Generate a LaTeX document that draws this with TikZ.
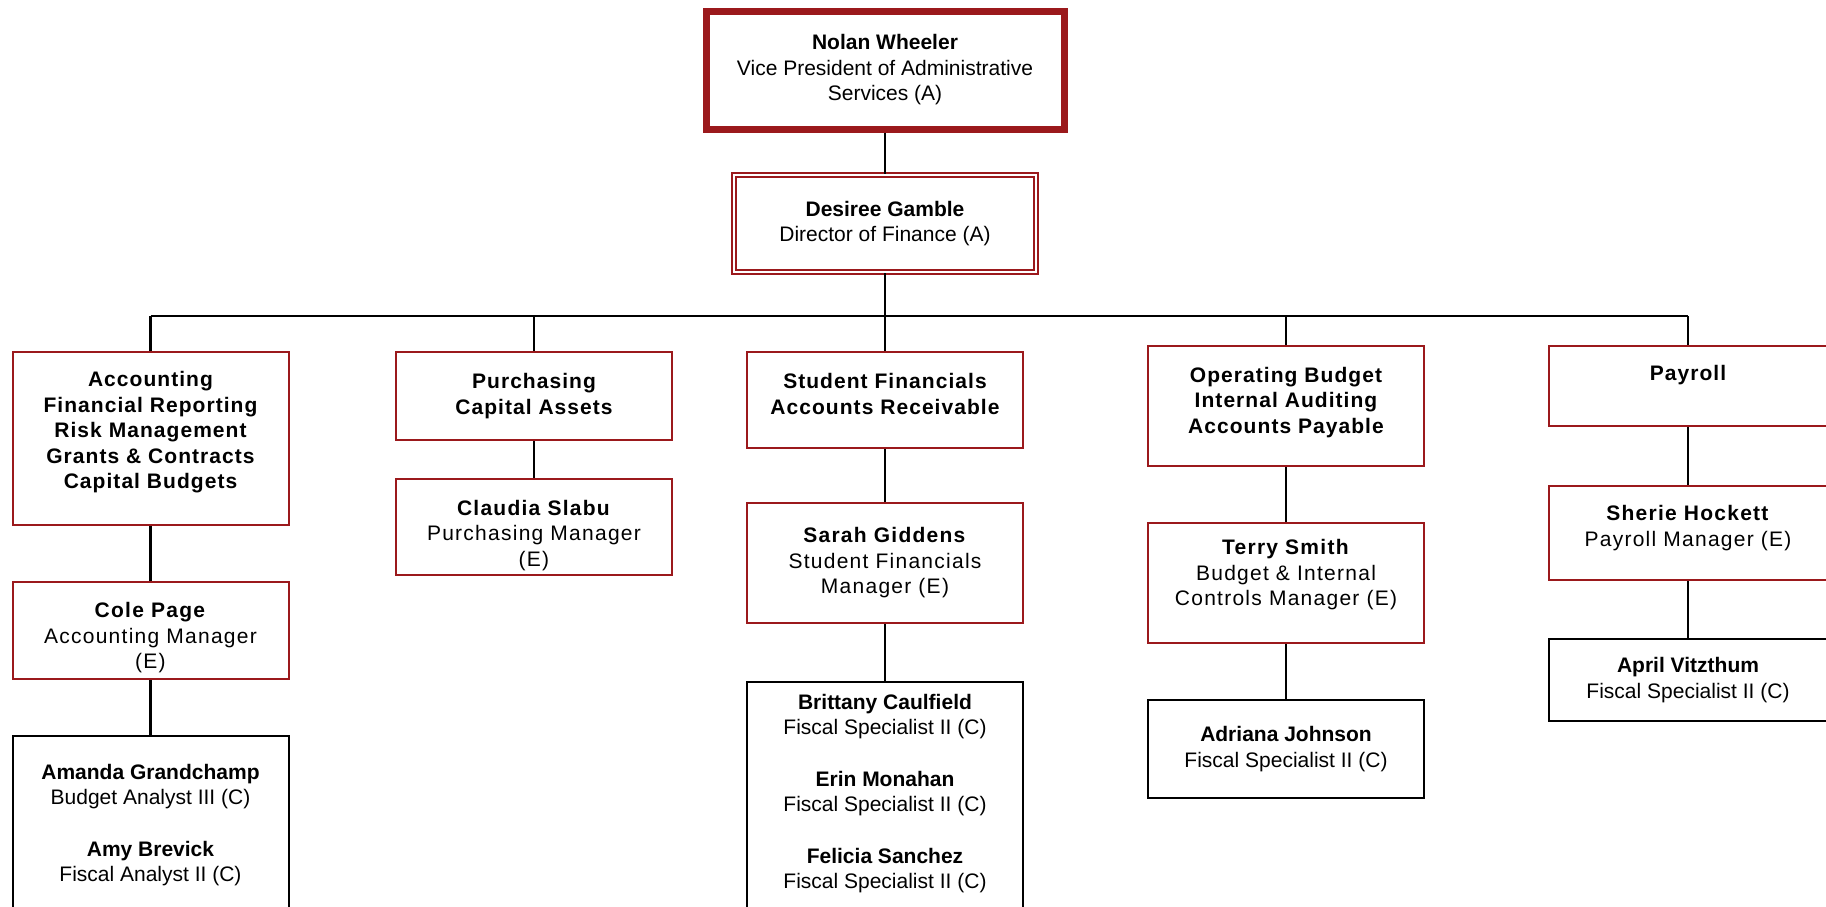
\documentclass[tikz,border=0pt]{standalone}
\usepackage{fontspec}
\setmainfont{Liberation Sans}
\definecolor{chartred}{RGB}{155,25,28}
\newcommand{\person}[2]{\textbf{#1}\\#2}
% empty line above / below to move text inside a box
\newcommand{\padtop}[1]{\mbox{}\\[#1]}
\newcommand{\padbot}[1]{\\[#1]\mbox{}}

\begin{document}
\begin{tikzpicture}
    [x=1pt,y=-1pt,
    boss/.style={rectangle,draw=chartred,fill=white,align=center,
        font=\fontsize{21}{25.5}\selectfont},
    unit/.style={boss,line width=2pt,minimum width=276pt,
        font=\fontsize{21}{25.5}\selectfont\addfontfeature{LetterSpace=6}},
    dept/.style={unit,font=\fontsize{21}{25.5}\selectfont\bfseries\addfontfeature{LetterSpace=5}},
    staff/.style={boss,draw=black,line width=2pt,minimum width=276pt},
    cut/.style={staff,anchor=north},
    link/.style={line width=2.5pt}]

    \fill[white] (0,0) rectangle (1826,906);
    \useasboundingbox (0,0) rectangle (1826,906);
    \clip (0,0) rectangle (1826,906);

    \node[boss,line width=7pt,minimum width=358pt,minimum height=118pt] (vp) at (885,70)
        {\person{Nolan Wheeler}{Vice President of Administrative\\Services (A)}};
    \node[boss,line width=2pt,double=white,double distance=2pt,
        minimum width=302pt,minimum height=97pt] (fin) at (885,223.5)
        {\person{Desiree Gamble}{Director of Finance (A)}};

    % departments
    \node[dept,minimum height=173pt] (acc) at (150.5,438.5)
        {Accounting\\Financial Reporting\\Risk Management\\Grants \& Contracts\\Capital Budgets\padbot{-9pt}};
    \node[dept,minimum height=88pt] (pur) at (534,396) {Purchasing\\Capital Assets};
    \node[dept,minimum height=96pt] (stu) at (885,400)
        {Student Financials\\Accounts Receivable\padbot{-13.5pt}};
    \node[dept,minimum height=120pt] (ops) at (1286,406)
        {Operating Budget\\Internal Auditing\\Accounts Payable\padbot{-14pt}};
    \node[dept,minimum width=278pt,minimum height=80pt] (pay) at (1688,386) {Payroll\\\mbox{}};

    % managers
    \node[unit,minimum height=97pt] (cole) at (150.5,630.5)
        {\padtop{4pt}\person{Cole Page}{Accounting Manager\\(E)}};
    \node[unit,minimum height=96pt] (claudia) at (534,527)
        {\padtop{6pt}\person{Claudia Slabu}{Purchasing Manager\\(E)}};
    \node[unit,minimum height=120pt] (sarah) at (885,563)
        {\person{Sarah Giddens}{Student Financials\\Manager (E)}};
    \node[unit,minimum height=120pt] (terry) at (1286,583)
        {\person{Terry Smith}{Budget \& Internal\\Controls Manager (E)}\padbot{-5pt}};
    \node[unit,minimum width=278pt,minimum height=94pt] (sherie) at (1688,533)
        {\person{Sherie Hockett}{Payroll Manager (E)}\padbot{-11pt}};

    % staff
    \node[cut,inner ysep=28pt] (amanda) at (150.5,735)
        {\person{Amanda Grandchamp}{Budget Analyst III (C)}\\[26pt]
         \person{Amy Brevick}{Fiscal Analyst II (C)}\\[100pt]};
    \node[cut,inner ysep=12pt] (britt) at (885,681)
        {\person{Brittany Caulfield}{Fiscal Specialist II (C)}\\[26pt]
         \person{Erin Monahan}{Fiscal Specialist II (C)}\\[26pt]
         \person{Felicia Sanchez}{Fiscal Specialist II (C)}\\[100pt]};
    \node[staff,minimum height=98pt] (adriana) at (1286,749)
        {\person{Adriana Johnson}{Fiscal Specialist II (C)}};
    \node[staff,minimum width=278pt,minimum height=82pt] (april) at (1688,680)
        {\person{April Vitzthum}{Fiscal Specialist II (C)}};

    \coordinate (bus) at (885,316);
    \draw[link] (vp) -- (fin);
    \draw[link] (fin) -- (bus);
    \draw[link] (acc.north |- bus) -- (pay.north |- bus);
    \foreach \d in {acc,pur,stu,ops,pay}
        \draw[link] (\d.north |- bus) -- (\d);
    \foreach \a/\b in {acc/cole,cole/amanda,pur/claudia,stu/sarah,sarah/britt,
                       ops/terry,terry/adriana,pay/sherie,sherie/april}
        \draw[link] (\a) -- (\b);
\end{tikzpicture}
\end{document}
